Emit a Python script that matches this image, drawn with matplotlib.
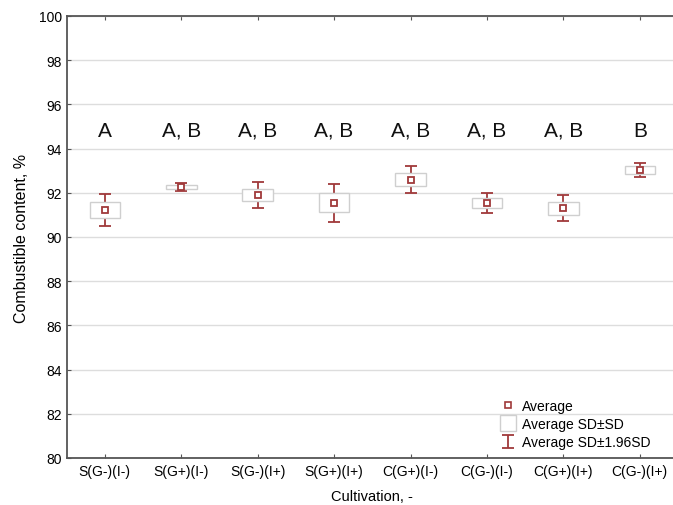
import numpy as np
import matplotlib.pyplot as plt
from matplotlib.lines import Line2D

plt.rcParams['font.family'] = ['Liberation Sans', 'DejaVu Sans']

# Data
cultivation = ['S(G-)(I-)', 'S(G+)(I-)', 'S(G-)(I+)', 'S(G+)(I+)',
               'C(G+)(I-)', 'C(G-)(I-)', 'C(G+)(I+)', 'C(G-)(I+)']
average = [91.22, 92.25, 91.90, 91.55, 92.60, 91.55, 91.30, 93.03]
sd = [0.37, 0.09, 0.29, 0.44, 0.31, 0.23, 0.30, 0.17]
groups = ['A', 'A, B', 'A, B', 'A, B', 'A, B', 'A, B', 'A, B', 'B']
group_y = 94.82

red = '#a0393a'
box_edge = '#cfcfcf'

x = np.arange(len(cultivation))
average = np.array(average)
sd = np.array(sd)

fig = plt.figure(figsize=(6.73, 5.06), dpi=100)
ax = fig.add_axes([66.6 / 673, 1 - 459 / 506, (678 - 66.6) / 673, (459 - 17) / 506])

err = ax.errorbar(x, average, yerr=1.96 * sd, fmt='none', ecolor=red,
                  elinewidth=1.3, capsize=4, capthick=1.3, zorder=2)
ax.bar(x, 2 * sd, bottom=average - sd, width=0.4, color='white',
       edgecolor=box_edge, linewidth=1.0, zorder=3)
ax.plot(x, average, 's', mfc='white', mec=red, ms=5, mew=1.3, zorder=4)

for xi, g in zip(x, groups):
    ax.text(xi, group_y, g, ha='center', va='center', fontsize=15, color='#111111')

ax.set_xlim(-0.5, len(cultivation) - 0.5)
ax.set_ylim(80, 100)
ax.set_yticks(np.arange(80, 101, 2))
ax.set_xticks(x)
ax.set_xticklabels(cultivation, fontsize=10)
ax.tick_params(axis='y', labelsize=10, direction='in', length=3, color='#555555')
ax.tick_params(axis='x', direction='in', length=3, top=True, color='#555555', pad=4)
ax.yaxis.grid(True, color='#dddddd', linewidth=1.0)
ax.set_axisbelow(True)
for s in ax.spines.values():
    s.set_color('#555555')
    s.set_linewidth(1.3)

ax.set_xlabel('Cultivation, -', fontsize=10.5, labelpad=8)
ax.set_ylabel('Combustible content, %', fontsize=11.5, labelpad=7)

# legend: mean marker, SD box, 1.96SD whisker
handles = [Line2D([], [], marker='s', ls='none', mfc='white', mec=red, ms=5, mew=1.2),
           Line2D([], [], marker='s', ls='none', mfc='white', mec=box_edge, ms=11, mew=1.0),
           err]
labels = ['Average', 'Average SD\u00b1SD', 'Average SD\u00b11.96SD']
ax.legend(handles, labels, loc='upper left', bbox_to_anchor=(500 / 673, 1 - 400 / 506),
          bbox_transform=fig.transFigure, frameon=False, fontsize=10,
          handlelength=1.2, handletextpad=0.4, labelspacing=0.3, borderaxespad=0, borderpad=0)

fig.savefig('out.png', dpi=100)
